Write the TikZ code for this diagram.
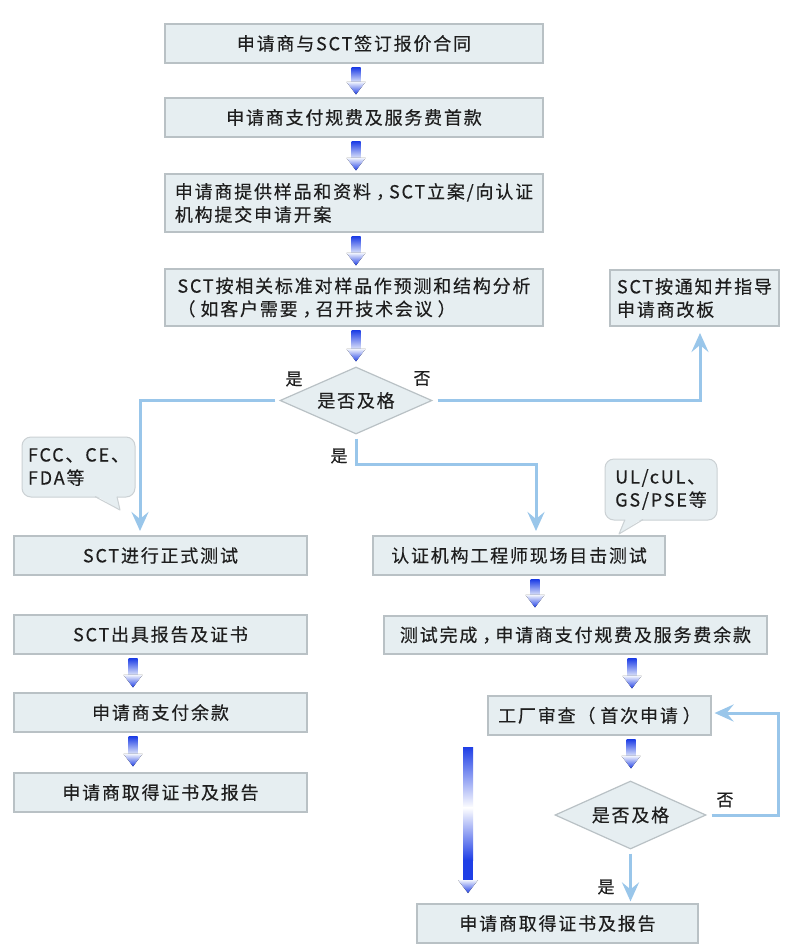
\documentclass[tikz,border=0pt]{standalone}
\usepackage{fontspec}
\newfontfamily\cjk[LetterSpace=10,FakeBold=0.35]{Noto Sans CJK SC}
\newfontfamily\cjkl[FakeBold=0.45]{Noto Sans CJK SC}
\usetikzlibrary{shapes.geometric,arrows.meta,calc}
\definecolor{boxfill}{HTML}{E6EEF1}
\definecolor{boxline}{HTML}{B9C1C5}
\definecolor{bubline}{HTML}{CBD1D4}
\definecolor{connc}{HTML}{99C6EA}
\definecolor{arrblue}{HTML}{1F3FE6}
\definecolor{arrlight}{HTML}{E2E8FA}
\definecolor{txt}{HTML}{1E1E1E}
% centred full-width punctuation
\newcommand\ccomma{\hspace{5pt}，\hspace{-5pt}}
\newcommand\lpar{（\hspace{5pt}}
\newcommand\rpar{\hspace{5pt}）\hspace{-5pt}}
% gradient arrow: [tip gap]{x}{from node}{to node}
\newcommand\garrow[4][3]{%
  \fill[top color=arrblue, bottom color=arrlight]
    let \p1=(#3.south), \p2=(#4.north) in
    (#2pt-4.5pt,\y1-4pt) rectangle (#2pt+4.5pt,\y2+#1pt+12pt);
  \fill[top color=arrlight!50!white, bottom color=arrblue]
    let \p1=(#3.south), \p2=(#4.north) in
    (#2pt-9.5pt,\y2+#1pt+12.5pt) -- (#2pt+9.5pt,\y2+#1pt+12.5pt) -- (#2pt,\y2+#1pt) -- cycle;
}
\begin{document}
\begin{tikzpicture}[x=1pt,y=-1pt,
  box/.style={draw=boxline, fill=boxfill, line width=1.2pt, inner sep=0pt,
    text=txt, font=\cjk\fontsize{18}{23}\selectfont},
  dia/.style={diamond, aspect=2.25, draw=boxline, fill=boxfill, line width=1.2pt,
    inner sep=0pt, text=txt, font=\cjk\fontsize{18}{23}\selectfont},
  bubble/.style={draw=bubline, fill=boxfill, line width=1pt, rounded corners=9pt,
    inner sep=0pt, text=txt, align=left, font=\cjk\fontsize{18}{23}\selectfont},
  lbl/.style={inner sep=0pt, text=txt, font=\cjkl\fontsize{17}{17}\selectfont},
  conn/.style={draw=connc, line width=3pt, line join=miter,
    -{Stealth[length=19pt,width=17pt,inset=7pt]}}
]
\fill[white] (0,0) rectangle (800,951);
\useasboundingbox (0,0) rectangle (800,951);

% main column
\node[box, minimum width=378pt, minimum height=39pt] (b1) at (354,43.5) {申请商与SCT签订报价合同};
\node[box, minimum width=378pt, minimum height=39pt] (b2) at (354,117.5) {申请商支付规费及服务费首款};
\node[box, minimum width=378pt, minimum height=58pt, align=left] (b3) at (354,203) {申请商提供样品和资料\ccomma SCT立案/向认证\\机构提交申请开案};
\node[box, minimum width=378pt, minimum height=57pt, align=left] (b4) at (354,297.5) {SCT按相关标准对样品作预测和结构分析\\\lpar 如客户需要\ccomma 召开技术会议\rpar};
\node[box, minimum width=169pt, minimum height=56pt, align=left] (b5) at (694.5,298) {SCT按通知并指导\\申请商改板};
\node[dia, minimum width=152pt, minimum height=67pt] (d1) at (356,400.5) {是否及格};

% left column
\node[box, minimum width=293pt, minimum height=39pt] (t1) at (160.5,555.5) {SCT进行正式测试};
\node[box, minimum width=293pt, minimum height=39pt] (t2) at (160.5,634.5) {SCT出具报告及证书};
\node[box, minimum width=293pt, minimum height=39pt] (t3) at (160.5,712.5) {申请商支付余款};
\node[box, minimum width=293pt, minimum height=39pt] (t4) at (160.5,792.5) {申请商取得证书及报告};

% right column
\node[box, minimum width=292pt, minimum height=39pt] (w1) at (519,555.5) {认证机构工程师现场目击测试};
\node[box, minimum width=383pt, minimum height=38pt] (w2) at (575.5,635) {测试完成\ccomma 申请商支付规费及服务费余款};
\node[box, minimum width=223pt, minimum height=39pt] (f1) at (599.5,715.5) {工厂审查\lpar 首次申请\rpar};
\node[dia, minimum width=151pt, minimum height=68pt] (d2) at (630.5,815) {是否及格};
\node[box, minimum width=281pt, minimum height=39pt] (fin) at (557.5,923.5) {申请商取得证书及报告};

% bubbles
\node[bubble, minimum width=113pt, minimum height=60pt] (bub1) at (78.5,467) {FCC、CE、\\FDA等};
\fill[boxfill] (95,495) -- (117,495) -- (120,510) -- cycle;
\draw[bubline, line width=1pt, line join=round] (95,496.6) -- (120,510) -- (117,496.6);
\node[bubble, minimum width=112pt, minimum height=61pt] (bub2) at (661,489.5) {UL/cUL、\\GS/PSE等};
\fill[boxfill] (625,518) -- (643,518) -- (619,534) -- cycle;
\draw[bubline, line width=1pt, line join=round] (625,519.6) -- (619,534) -- (643,519.6);

% labels
\node[lbl] (y1) at (294,379) {是};
\node[lbl] (n1) at (422,378.5) {否};
\node[lbl] (y2) at (339,456) {是};
\node[lbl] (n2) at (725,800) {否};
\node[lbl] (y3) at (606,887) {是};

% gradient arrows
\garrow{356}{b1}{b2}
\garrow{356}{b2}{b3}
\garrow{356}{b3}{b4}
\garrow[5]{356}{b4}{d1}
\garrow[8]{535}{w1}{w2}
\garrow[7]{632}{w2}{f1}
\garrow[12]{631}{f1}{d2}
\garrow[5]{133}{t2}{t3}
\garrow[6]{133}{t3}{t4}

% big decorative arrow
\fill[top color=arrblue, bottom color=white] (463,747) rectangle (473,808);
\fill[top color=white, bottom color=arrblue] (463,807.5) rectangle (473,860);
\fill[arrblue] (463,859.5) rectangle (473,880);
\fill[top color=arrlight!50!white, bottom color=arrblue] (458,880) -- (478,880) -- (468,893) -- cycle;

% connectors
\coordinate (c1) at (140,531);
\coordinate (c2) at (700,333);
\coordinate (c3) at (536,531);
\draw[conn] ([xshift=-4pt]d1.west) -| (c1);
\draw[conn] ([xshift=5pt]d1.east) -| (c2);
\draw[conn] ([yshift=-4pt]d1.south) -- ++(0,26) -| (c3);
\draw[conn] ([xshift=5pt]d2.east) -- ++(67,0) |- ([xshift=3pt,yshift=2.5pt]f1.east);
\draw[conn] ([yshift=-4pt]d2.south) -- ([yshift=2pt]d2.south |- fin.north);
\end{tikzpicture}
\end{document}
